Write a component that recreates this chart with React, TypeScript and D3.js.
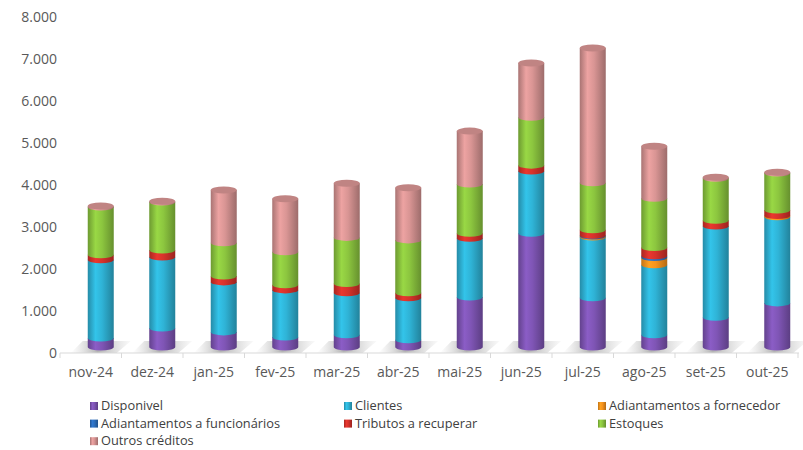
import React from 'react'
import * as d3 from 'd3'

const months = ['nov-24', 'dez-24', 'jan-25', 'fev-25', 'mar-25', 'abr-25', 'mai-25', 'jun-25', 'jul-25', 'ago-25', 'set-25', 'out-25']
const disponivel = [215, 450, 360, 240, 290, 170, 1190, 2710, 1170, 290, 710, 1050]
const clientes = [1860, 1690, 1190, 1120, 1000, 1000, 1400, 1480, 1450, 1670, 2170, 2050]
const fornecedor = [0, 0, 0, 0, 0, 0, 0, 0, 20, 170, 0, 30]
const funcionarios = [0, 0, 0, 0, 0, 0, 0, 0, 20, 40, 0, 0]
const tributos = [120, 170, 140, 120, 220, 120, 120, 140, 130, 200, 140, 130]
const estoques = [1140, 1140, 790, 790, 1100, 1260, 1170, 1140, 1120, 1170, 1000, 880]
const outros = [20, 20, 1260, 1260, 1290, 1240, 1260, 1290, 3210, 1240, 20, 20]
const yTicks = [0, 1000, 2000, 3000, 4000, 5000, 6000, 7000, 8000]

const SERIES = [
  { key: 'Disponivel', values: disponivel, color: '#7f55b5' },
  { key: 'Clientes', values: clientes, color: '#2fb3d6' },
  { key: 'Adiantamentos a fornecedor', values: fornecedor, color: '#f7941d' },
  { key: 'Adiantamentos a funcionários', values: funcionarios, color: '#2e6fbe' },
  { key: 'Tributos a recuperar', values: tributos, color: '#d6322b' },
  { key: 'Estoques', values: estoques, color: '#8cc63f' },
  { key: 'Outros créditos', values: outros, color: '#d99594' },
]
// legend goes row-wise in 3 columns
const FONT = '"Open Sans", sans-serif'

export default function App() {
  const W = 803, H = 450
  const x = d3.scaleBand<string>().domain(months).range([60, 798]).padding(0)
  const y = d3.scaleLinear().domain([0, 8000]).range([353, 17])
  const DX = 10, DY = -6 // 3d depth offset of the cylinders
  const r = 13, ry = 3.5

  const rows = months.map((m, i) => {
    const o: any = { m }
    SERIES.forEach(s => { o[s.key] = s.values[i] })
    return o
  })
  const stack = d3.stack().keys(SERIES.map(s => s.key))(rows)

  const gid = (i: number) => `cyl${i}`
  const fmt = (v: number) => d3.format(',')(v).replace(/,/g, '.')

  return (
    <svg width={W} height={H} style={{ position: 'absolute', left: 0, top: 0, background: '#fff' }}>
      <defs>
        {SERIES.map((s, i) => {
          const c = d3.color(s.color)!
          return (
            <linearGradient key={i} id={gid(i)} x1="0" x2="1" y1="0" y2="0">
              <stop offset="0" stopColor={c.darker(0.7).formatHex()} />
              <stop offset="0.3" stopColor={c.brighter(0.25).formatHex()} />
              <stop offset="0.55" stopColor={s.color} />
              <stop offset="1" stopColor={c.darker(0.9).formatHex()} />
            </linearGradient>
          )
        })}
        <linearGradient id="floor" x1="0" x2="1" y1="0" y2="0">
          <stop offset="0" stopColor="#c8c8c8" stopOpacity="0" />
          <stop offset="0.45" stopColor="#a0a0a0" stopOpacity="0.8" />
          <stop offset="1" stopColor="#c8c8c8" stopOpacity="0.1" />
        </linearGradient>
      </defs>

      {/* floor shadows */}
      {months.map(m => {
        const cx = x(m)! + x.bandwidth() / 2 + DX
        const pts = [[cx - 30, 353], [cx - 18, 341], [cx + 30, 341], [cx + 16, 353]]
        return <polygon key={m} points={pts.map(p => p.join(',')).join(' ')} fill="url(#floor)" />
      })}

      {/* axis line + ticks */}
      <line x1={60} x2={799} y1={353} y2={353} stroke="#d9d9d9" />
      {months.concat(['end']).map((m, i) => {
        const xx = 60 + i * x.bandwidth()
        return <line key={m} x1={xx} x2={xx} y1={353} y2={358} stroke="#d9d9d9" />
      })}

      {/* y labels */}
      {yTicks.map(t => (
        <text key={t} x={57} y={y(t)} dy="0.35em" textAnchor="end" fontFamily={FONT} fontSize={14} fill="#595959">{fmt(t)}</text>
      ))}

      {/* x labels */}
      {months.map(m => (
        <text key={m} x={x(m)! + x.bandwidth() / 2} y={372} dy="0.35em" textAnchor="middle" fontFamily={FONT} fontSize={14} fill="#595959">{m}</text>
      ))}

      {/* cylinders */}
      {months.map((m, i) => {
        const cx = x(m)! + x.bandwidth() / 2 + DX
        let topIdx = 0, topY = y(0) + DY
        const segs = stack.map((layer, si) => {
          const [v0, v1] = layer[i]
          if (v1 - v0 <= 0) return null
          const y0 = y(v0) + DY, y1 = y(v1) + DY
          topIdx = si; topY = y1
          const d = `M${cx - r},${y1} L${cx - r},${y0} A${r},${ry} 0 0 0 ${cx + r},${y0} L${cx + r},${y1} Z`
          return <path key={si} d={d} fill={`url(#${gid(si)})`} />
        })
        const capC = d3.color(SERIES[topIdx].color)!.darker(0.35).formatHex()
        return (
          <g key={m}>
            {segs}
            <ellipse cx={cx} cy={topY} rx={r} ry={ry} fill={capC} />
          </g>
        )
      })}

      {/* legend */}
      {SERIES.map((s, i) => {
        const col = i % 3, row = Math.floor(i / 3)
        const lx = 90 + col * 254, ly = 406 + row * 17.6
        return (
          <g key={s.key}>
            <rect x={lx} y={ly - 4} width={8} height={8} fill={`url(#${gid(i)})`} />
            <text x={lx + 11} y={ly} dy="0.33em" fontFamily={FONT} fontSize={12.8} fill="#404040">{s.key}</text>
          </g>
        )
      })}
    </svg>
  )
}
